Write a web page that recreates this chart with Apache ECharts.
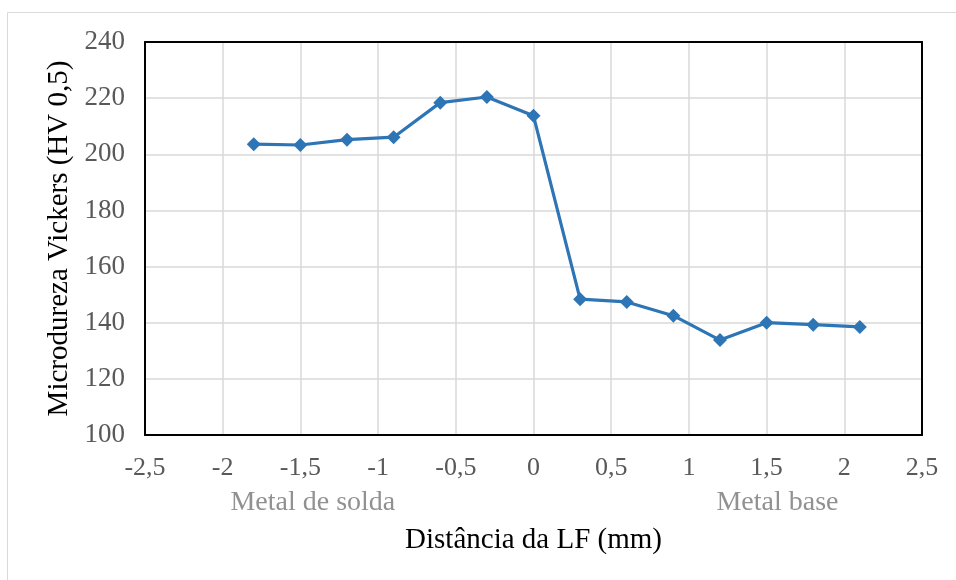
<!DOCTYPE html>
<html><head><meta charset="utf-8">
<script src="https://cdn.jsdelivr.net/npm/echarts@6/dist/echarts.min.js"></script>
<style>html,body{margin:0;padding:0;background:#fff}#c{width:956px;height:580px}</style>
</head><body><div id="c"></div>
<script>
const xValues = [-1.8, -1.5, -1.2, -0.9, -0.6, -0.3, 0, 0.3, 0.6, 0.9, 1.2, 1.5, 1.8, 2.1];
const hardness = [203.6, 203.3, 205.2, 206.1, 218.4, 220.4, 213.7, 148.4, 147.4, 142.5, 133.8, 140.0, 139.3, 138.5];
const yTitle = 'Microdureza Vickers (HV 0,5)';
const xTitle = 'Distância da LF (mm)';
const regionLabels = ['Metal de solda', 'Metal base'];
const regionX = [-1.42, 1.57];

const chart = echarts.init(document.getElementById('c'), null, {renderer: 'canvas'});
const font = '"Liberation Serif", "Times New Roman", serif';
const data = xValues.map((x, i) => [x, hardness[i]]);
const frameAxis = {
  type: 'value', axisLine: {show: true, onZero: false, lineStyle: {color: '#000', width: 2}},
  axisTick: {show: false}, axisLabel: {show: false}, splitLine: {show: false}
};
chart.setOption({
  animation: false,
  backgroundColor: '#fff',
  grid: {left: 145, right: 34, top: 42, bottom: 145},
  xAxis: [{
    type: 'value', min: -2.5, max: 2.5, interval: 0.5,
    axisLine: {show: true, onZero: false, lineStyle: {color: '#000', width: 2}},
    axisTick: {show: false},
    splitLine: {show: true, lineStyle: {color: '#d9d9d9', width: 1.5}},
    axisLabel: {color: '#595959', fontFamily: font, fontSize: 26, margin: 20,
      formatter: v => String(Math.round(v * 10) / 10).replace('.', ',')},
    name: xTitle, nameLocation: 'middle', nameGap: 91,
    nameTextStyle: {color: '#000', fontFamily: font, fontSize: 29}
  }, Object.assign({}, frameAxis, {position: 'top', min: -2.5, max: 2.5})],
  yAxis: [{
    type: 'value', min: 100, max: 240, interval: 20,
    axisLine: {show: true, onZero: false, lineStyle: {color: '#000', width: 2}},
    axisTick: {show: false},
    splitLine: {show: true, lineStyle: {color: '#d9d9d9', width: 1.5}},
    axisLabel: {color: '#595959', fontFamily: font, fontSize: 27, margin: 20},
    name: yTitle, nameLocation: 'middle', nameGap: 71,
    nameTextStyle: {color: '#000', fontFamily: font, fontSize: 29}
  }, Object.assign({}, frameAxis, {position: 'right', min: 100, max: 240})],
  graphic: [
    {type: 'line', shape: {x1: 7.5, y1: 12.5, x2: 956, y2: 12.5}, style: {stroke: '#d9d9d9', lineWidth: 1}, silent: true},
    {type: 'line', shape: {x1: 7.5, y1: 12.5, x2: 7.5, y2: 580}, style: {stroke: '#d9d9d9', lineWidth: 1}, silent: true}
  ],
  series: [
    {
      type: 'line', data: data, symbol: 'diamond', symbolSize: 14,
      lineStyle: {color: '#2E75B6', width: 3.2},
      itemStyle: {color: '#2E75B6'},
      z: 5
    },
    {
      type: 'scatter', data: regionX.map((x, i) => [x, 100]), symbolSize: 0, silent: true,
      label: {show: true, position: 'bottom', distance: 54,
        formatter: p => regionLabels[p.dataIndex],
        color: '#767676', fontFamily: font, fontSize: 28}
    }
  ]
});
</script></body></html>
